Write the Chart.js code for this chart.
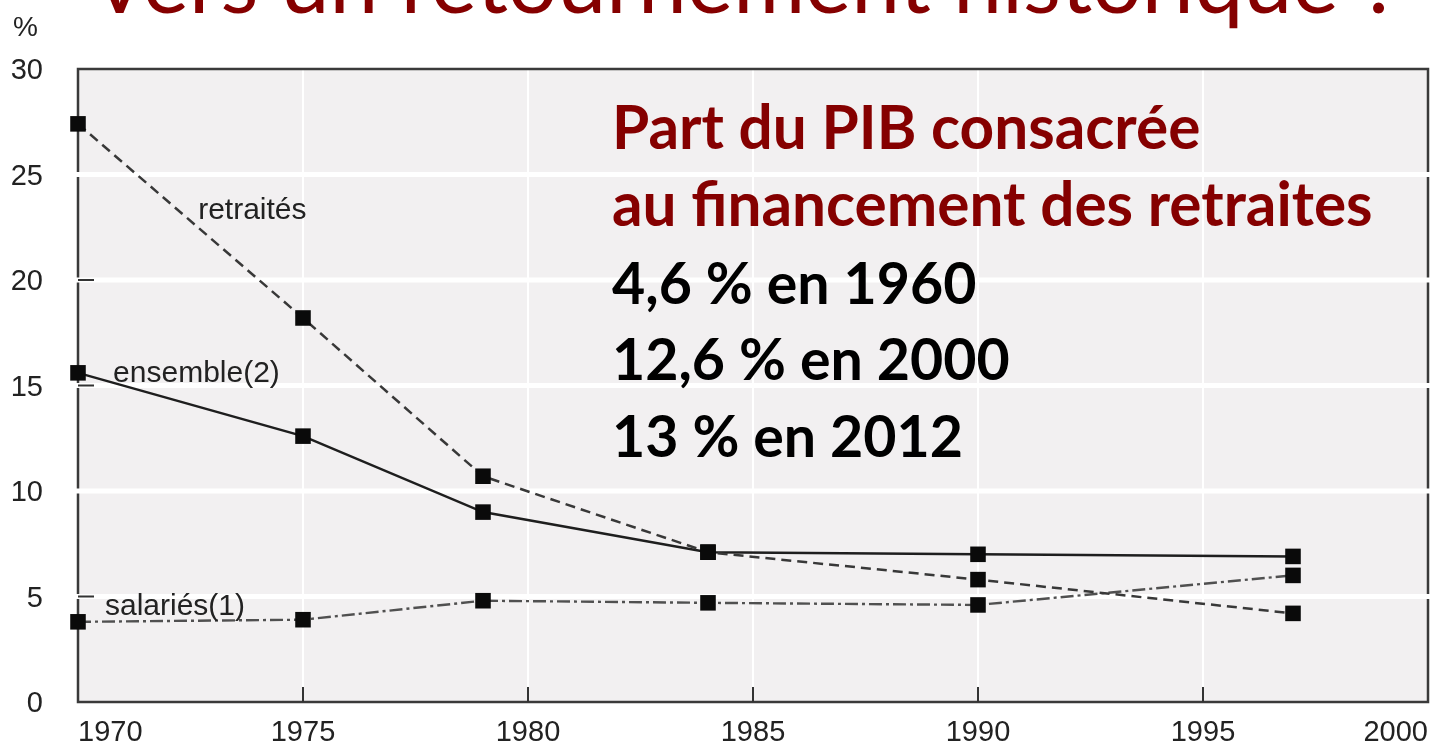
<!DOCTYPE html>
<html><head><meta charset="utf-8">
<script src="https://cdn.jsdelivr.net/npm/chart.js@4.4.1/dist/chart.umd.min.js"></script>
<style>html,body{margin:0;padding:0;background:#fff;overflow:hidden}#wrap{width:1433px;height:750px;position:relative;overflow:hidden}</style>
</head><body><div id="wrap"><canvas id="c" width="1439" height="750"></canvas></div>
<script>
// ---- data ----
const years = [1970, 1975, 1979, 1984, 1990, 1997];
const retraites = [27.4, 18.2, 10.7, 7.1, 5.8, 4.2];
const ensemble = [15.6, 12.6, 9.0, 7.1, 7.0, 6.9];
const salaries = [3.8, 3.9, 4.8, 4.7, 4.6, 6.0];
const xTicks = [1970, 1975, 1980, 1985, 1990, 1995, 2000];
const yTicks = [0, 5, 10, 15, 20, 25, 30];
const seriesNames = ['retraités', 'ensemble(2)', 'salariés(1)'];
const titleText = 'Vers un retournement historique ?';
const noteRed = ['Part du PIB consacrée', 'au financement des retraites'];
const noteBlack = ['4,6 % en 1960', '12,6 % en 2000', '13 % en 2012'];
const unitLabel = '%';
// label anchors (data units) for the series names
const labelAnchors = [[1972.67, 23.3], [1970.78, 15.55], [1970.6, 4.5]];

const TICK_FONT = '"Liberation Sans", Arial, sans-serif';
const LABEL_FONT = '"Liberation Sans", Arial, sans-serif';
const RED = '#850000';

function line(ctx, x1, y1, x2, y2) { ctx.beginPath(); ctx.moveTo(x1, y1); ctx.lineTo(x2, y2); ctx.stroke(); }

const decor = {
  id: 'decor',
  beforeDraw(chart) {
    const { ctx, chartArea: a } = chart;
    ctx.save();
    ctx.fillStyle = '#f2f0f1';
    ctx.fillRect(a.left, a.top, a.right - a.left, a.bottom - a.top);
    ctx.restore();
  },
  beforeDatasetsDraw(chart) {
    const { ctx, chartArea: a, scales: { x, y } } = chart;
    ctx.save();
    ctx.strokeStyle = '#ffffff'; ctx.lineWidth = 2;
    xTicks.slice(1, -1).forEach(v => { const px = x.getPixelForValue(v); line(ctx, px, a.top, px, a.bottom); });
    ctx.strokeStyle = '#3a3a3a'; ctx.lineWidth = 2.5;
    ctx.strokeRect(a.left, a.top, a.right - a.left, a.bottom - a.top);
    ctx.strokeStyle = '#ffffff'; ctx.lineWidth = 5;
    yTicks.slice(1, -1).forEach(v => { const py = y.getPixelForValue(v); line(ctx, a.left - 3, py, a.right + 3, py); });
    ctx.strokeStyle = '#333'; ctx.lineWidth = 2;
    [20, 15, 5].forEach(v => { const py = y.getPixelForValue(v); line(ctx, a.left, py, a.left + 16, py); });
    xTicks.slice(1, -1).forEach(v => { const px = x.getPixelForValue(v); line(ctx, px, a.bottom, px, a.bottom - 15); });
    ctx.restore();
  },
  afterDraw(chart) {
    const { ctx, scales: { x, y } } = chart;
    ctx.save();
    // title (cut at top)
    ctx.fillStyle = RED;
    ctx.textBaseline = 'alphabetic'; ctx.textAlign = 'left';
    ctx.font = '100px Lato, "Open Sans", sans-serif';
    let w = ctx.measureText(titleText).width;
    const ts = 100 * 1310 / w;
    ctx.font = ts.toFixed(1) + 'px Lato, "Open Sans", sans-serif';
    ctx.fillText(titleText, 90, 13);
    // unit
    ctx.fillStyle = '#222';
    ctx.font = '28px ' + TICK_FONT;
    ctx.textBaseline = 'middle';
    ctx.fillText(unitLabel, 13, 28);
    // series names
    ctx.font = '30px ' + LABEL_FONT;
    seriesNames.forEach((n, i) => {
      ctx.fillText(n, x.getPixelForValue(labelAnchors[i][0]), y.getPixelForValue(labelAnchors[i][1]));
    });
    // note block
    ctx.textBaseline = 'alphabetic';
    ctx.font = 'bold 100px Lato, "Open Sans", sans-serif';
    w = ctx.measureText(noteRed[1]).width;
    const ns = 100 * 760 / w;
    w = ctx.measureText(noteBlack[1]).width;
    const bs = 100 * 398 / w;
    const bases = [149, 226, 304, 380, 457];
    const lines = noteRed.concat(noteBlack);
    lines.forEach((t, i) => {
      const red = i < noteRed.length;
      ctx.fillStyle = red ? RED : '#000';
      ctx.font = 'bold ' + (red ? ns : bs).toFixed(1) + 'px Lato, "Open Sans", sans-serif';
      ctx.fillText(t, 612, bases[i]);
    });
    ctx.restore();
  }
};

const mk = arr => years.map((yr, i) => ({ x: yr, y: arr[i] }));
const pt = { pointStyle: 'rect', pointRadius: 11, pointHoverRadius: 11, pointBackgroundColor: '#0a0a0a', pointBorderWidth: 0, tension: 0, fill: false, clip: false };

new Chart(document.getElementById('c'), {
  type: 'line',
  data: {
    datasets: [
      Object.assign({ label: seriesNames[0], data: mk(retraites), borderColor: '#383838', borderWidth: 2.5, borderDash: [10, 6] }, pt),
      Object.assign({ label: seriesNames[1], data: mk(ensemble), borderColor: '#1e1e1e', borderWidth: 2.5 }, pt),
      Object.assign({ label: seriesNames[2], data: mk(salaries), borderColor: '#505050', borderWidth: 2.4, borderDash: [13, 4, 3, 4] }, pt)
    ]
  },
  options: {
    responsive: false, animation: false,
    layout: { padding: { top: 69, right: 5, left: 0, bottom: 0 } },
    plugins: { legend: { display: false }, tooltip: { enabled: false } },
    scales: {
      x: {
        type: 'linear', min: 1970, max: 2000,
        afterFit: s => { s.height = 48; s.paddingLeft = 0; s.paddingRight = 0; },
        afterBuildTicks: s => { s.ticks = xTicks.map(v => ({ value: v })); },
        ticks: { callback: v => String(v), font: { family: TICK_FONT, size: 29 }, color: '#222', padding: 14, align: 'inner', maxRotation: 0, autoSkip: false },
        grid: { display: false, drawTicks: false },
        border: { display: false }
      },
      y: {
        min: 0, max: 30,
        afterFit: s => { s.width = 78; s.paddingTop = 0; s.paddingBottom = 0; },
        afterBuildTicks: s => { s.ticks = yTicks.map(v => ({ value: v })); },
        ticks: { font: { family: TICK_FONT, size: 29 }, color: '#222', padding: 35, labelOffset: 2 },
        grid: { display: false, drawTicks: false },
        border: { display: false }
      }
    }
  },
  plugins: [decor]
});
</script>
</body></html>
